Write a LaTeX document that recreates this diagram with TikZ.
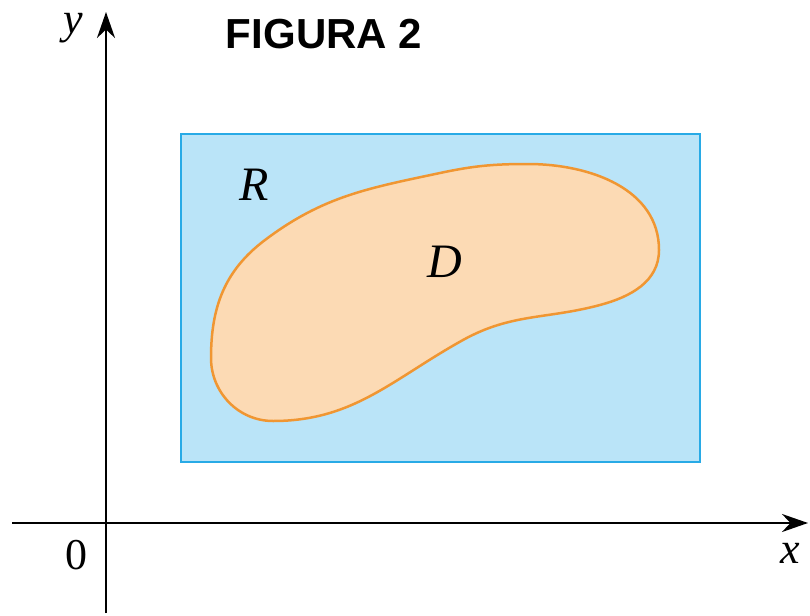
\documentclass[tikz,border=0pt]{standalone}
\usepackage{fontspec}
\setmainfont{Liberation Serif}
\newfontfamily\figfont{Liberation Sans}
\usetikzlibrary{arrows.meta}
\definecolor{rfill}{RGB}{186,228,248}
\definecolor{rline}{RGB}{40,170,230}
\definecolor{dfill}{RGB}{252,218,180}
\definecolor{dline}{RGB}{240,150,50}
\begin{document}
\begin{tikzpicture}[x=1pt,y=-1pt,
  axis/.style={line width=2.4pt,-{Stealth[length=26pt,width=18pt]}},
  lbl/.style={font=\fontsize{44}{48}\selectfont\itshape,inner sep=0pt},
  biglbl/.style={font=\fontsize{48}{52}\selectfont\itshape,inner sep=0pt},
  num/.style={font=\fontsize{44}{48}\selectfont,inner sep=0pt}]
\useasboundingbox (0,0) rectangle (810,615);
\fill[white] (0,0) rectangle (810,615);
\node[draw=rline,fill=rfill,line width=2pt,minimum width=519pt,minimum height=328pt,inner sep=0pt,anchor=north west] (R) at (180,133) {};
\coordinate (p1) at (528,164);
\coordinate (p2) at (659,250);
\coordinate (p3) at (600,305);
\coordinate (p4) at (463,340);
\coordinate (p6) at (273,421);
\coordinate (p7) at (211,358);
\coordinate (p8) at (265,240);
\coordinate (p9) at (440,173);
\draw[fill=dfill,draw=dline,line width=2.5pt]
  (p1) to[out=0,in=90] (p2)
       to[out=270,in=15] (p3)
       to[out=195,in=29] (p4)
       to[out=209,in=0] (p6)
       to[out=180,in=270] (p7)
       to[out=90,in=217] (p8)
       to[out=37,in=192] (p9)
       to[out=12,in=180] (p1) -- cycle;
\coordinate (ys) at (106,613);
\coordinate (ye) at (106,12);
\coordinate (xs) at (12,523);
\coordinate (xe) at (808,523);
\draw[axis] (ys) -- (ye);
\draw[axis] (xs) -- (xe);
\node[lbl] (ylab) at (73,28) {y};
\node[lbl] (xlab) at (790,553) {x};
\node[num] (zero) at (76,555) {0};
\node[biglbl] (Rlab) at (254,185) {R};
\node[biglbl] (Dlab) at (445,262) {D};
\node[font=\figfont\bfseries\fontsize{42}{46}\selectfont,inner sep=0pt] (title) at (324,34) {FIGURA 2};
\end{tikzpicture}
\end{document}
